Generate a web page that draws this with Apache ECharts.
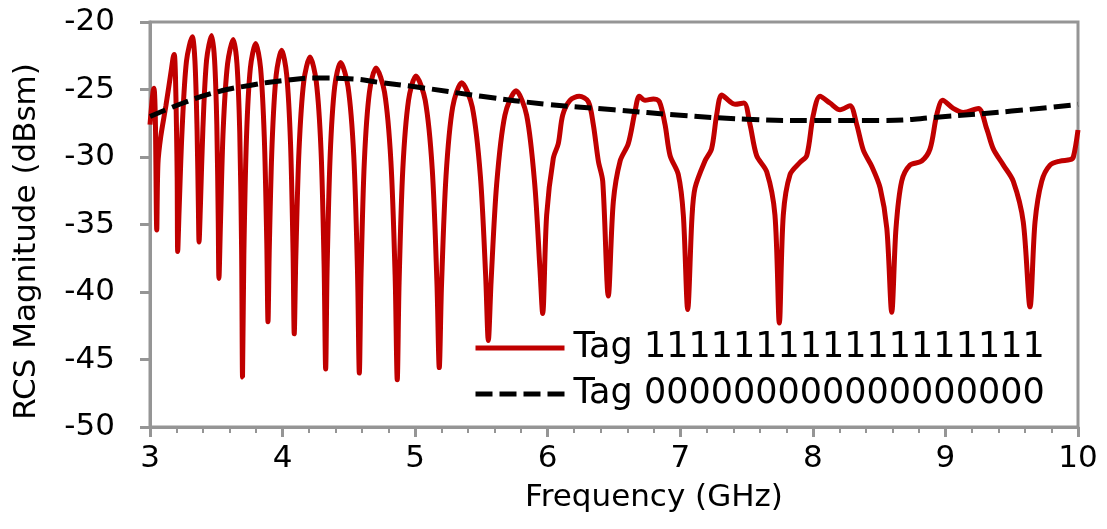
<!DOCTYPE html>
<html>
<head>
<meta charset="utf-8">
<script src="https://cdn.jsdelivr.net/npm/echarts@6/dist/echarts.min.js"></script>
<style>
  html, body { margin: 0; padding: 0; background: #fff; }
  #chart { width: 1107px; height: 529px; }
</style>
</head>
<body>
<div id="chart"></div>
<script>
// Tag 111111111111111111 (red solid)
const redFreq = [
  3.000, 3.022, 3.030, 3.040, 3.051, 3.060, 3.081, 3.120, 3.160, 3.175, 3.183, 3.192, 3.200, 3.205, 3.209,
  3.220, 3.242, 3.275, 3.319, 3.339, 3.355, 3.365, 3.370,
  3.380, 3.399, 3.427, 3.465, 3.487, 3.504, 3.515, 3.520,
  3.531, 3.552, 3.585, 3.628, 3.656, 3.677, 3.691, 3.698,
  3.708, 3.728, 3.757, 3.797, 3.834, 3.862, 3.881, 3.890,
  3.900, 3.921, 3.952, 3.993, 4.031, 4.060, 4.079, 4.088,
  4.100, 4.124, 4.160, 4.207, 4.254, 4.290, 4.313, 4.325,
  4.336, 4.359, 4.393, 4.438, 4.494, 4.537, 4.565, 4.579,
  4.592, 4.617, 4.655, 4.705, 4.769, 4.817, 4.849, 4.865,
  4.879, 4.907, 4.950, 5.006, 5.076, 5.129, 5.164, 5.182,
  5.199, 5.233, 5.283, 5.351, 5.431, 5.492, 5.532, 5.552,
  5.573, 5.615, 5.677, 5.761, 5.841, 5.902, 5.942, 5.962,
  5.992, 6.042, 6.080, 6.113, 6.168, 6.238, 6.306, 6.344, 6.382, 6.415, 6.457,
  6.495, 6.546, 6.608, 6.659, 6.691, 6.734, 6.797, 6.842, 6.885, 6.923, 6.985, 7.023, 7.056,
  7.088, 7.111, 7.186, 7.236, 7.274, 7.312, 7.375, 7.413, 7.480, 7.526, 7.576, 7.652, 7.714, 7.747,
  7.777, 7.828, 7.903, 7.954, 8.003, 8.054, 8.129, 8.205, 8.280, 8.331, 8.381, 8.445, 8.508, 8.558, 8.595,
  8.627, 8.670, 8.733, 8.821, 8.884, 8.934, 8.979, 9.059, 9.135, 9.248, 9.311, 9.361, 9.437, 9.512, 9.587, 9.638,
  9.676, 9.726, 9.789, 9.864, 9.940, 9.965, 10.000
];
const redRcs = [
  -27.6, -25.2, -24.9, -27.0, -35.4, -30.5, -28.5, -26.2, -23.6, -22.6, -22.4, -24.0, -28.0, -31.5, -37.0,
  -33.8, -28.0, -22.9, -21.1, -22.9, -28.0, -33.7, -36.3,
  -33.7, -27.9, -22.8, -21.0, -22.8, -27.6, -34.9, -39.0,
  -35.1, -28.0, -23.1, -21.3, -23.1, -28.2, -36.9, -46.3,
  -37.2, -28.5, -23.4, -21.6, -23.4, -28.5, -36.4, -42.2,
  -36.7, -29.0, -23.9, -22.1, -23.9, -29.0, -37.0, -43.1,
  -37.4, -29.5, -24.4, -22.6, -24.4, -29.5, -37.9, -45.7,
  -38.3, -29.9, -24.8, -23.0, -24.8, -29.9, -38.4, -46.0,
  -38.7, -30.3, -25.2, -23.4, -25.2, -30.3, -38.8, -46.5,
  -39.3, -30.9, -25.8, -24.0, -25.8, -30.9, -39.2, -45.6,
  -39.5, -31.4, -26.3, -24.5, -26.3, -31.4, -38.8, -43.6,
  -39.2, -32.0, -26.9, -25.1, -26.9, -32.0, -38.4, -41.6,
  -34.3, -30.1, -29.0, -26.9, -25.8, -25.5, -25.9, -27.6, -30.3, -31.8, -40.3,
  -33.3, -30.3, -29.0, -26.6, -25.5, -25.8, -25.7, -25.9, -27.6, -29.9, -31.3, -34.3, -41.3,
  -34.5, -32.3, -30.3, -29.4, -26.9, -25.4, -25.9, -26.1, -26.0, -27.6, -29.9, -31.1, -34.3, -42.3,
  -34.3, -31.3, -30.4, -29.9, -26.9, -25.5, -26.0, -26.5, -26.2, -27.6, -29.5, -30.7, -32.3, -35.3, -41.5,
  -35.3, -31.8, -30.6, -30.3, -29.4, -26.9, -25.8, -26.4, -26.7, -26.4, -27.9, -29.4, -30.6, -31.8, -34.8, -41.1,
  -34.8, -31.8, -30.6, -30.3, -30.2, -30.0, -28.0
];

// Tag 000000000000000000 (black dashed)
const blackFreq = [3.0, 3.25, 3.5, 3.75, 4.0, 4.25, 4.5, 4.75, 5.0, 5.5, 6.0, 6.5, 7.0, 7.5, 8.0, 8.5, 9.0, 9.5, 10.0];
const blackRcs  = [-27.0, -26.0, -25.2, -24.7, -24.35, -24.15, -24.2, -24.5, -24.8, -25.5, -26.1, -26.5, -26.9, -27.2, -27.3, -27.3, -27.0, -26.6, -26.1];

const seriesNames = ['Tag 111111111111111111', 'Tag 000000000000000000'];
const xTitle = 'Frequency (GHz)';
const yTitle = 'RCS Magnitude (dBsm)';

const zip = (xs, ys) => xs.map((x, i) => [x, ys[i]]);
const FONT = 'DejaVu Sans';
const AXIS_GRAY = '#959595';

const chart = echarts.init(document.getElementById('chart'), null, { renderer: 'canvas' });
chart.setOption({
  animation: false,
  backgroundColor: '#ffffff',
  grid: {
    left: 150, right: 29, top: 22, bottom: 102,
    show: true, borderColor: AXIS_GRAY, borderWidth: 3, backgroundColor: 'transparent'
  },
  legend: {
    orient: 'vertical',
    left: 473, top: 330,
    padding: 0,
    itemGap: 10,
    itemWidth: 89,
    itemHeight: 24,
    itemStyle: { opacity: 0, color: 'transparent', borderWidth: 0 },
    lineStyle: { width: 5 },
    textStyle: { fontFamily: FONT, fontSize: 35, color: '#000', lineHeight: 36, padding: [0, 0, 0, 4] },
    data: seriesNames
  },
  xAxis: {
    type: 'value',
    min: 3, max: 10, interval: 1,
    name: xTitle,
    nameLocation: 'middle',
    nameGap: 55,
    nameTextStyle: { fontFamily: FONT, fontSize: 31, color: '#000', padding: [0, 0, 0, 80] },
    axisLine: { show: true, lineStyle: { color: AXIS_GRAY, width: 3 } },
    axisTick: { show: true, length: 10, lineStyle: { color: AXIS_GRAY, width: 3 } },
    minorTick: { show: true, splitNumber: 5, length: 6, lineStyle: { color: AXIS_GRAY, width: 2 } },
    splitLine: { show: false },
    axisLabel: { fontFamily: FONT, fontSize: 31, color: '#000', margin: 16 }
  },
  yAxis: {
    type: 'value',
    min: -50, max: -20, interval: 5,
    name: yTitle,
    nameLocation: 'middle',
    nameGap: 108,
    nameTextStyle: { fontFamily: FONT, fontSize: 31, color: '#000', padding: [0, 34, 0, 0] },
    axisLine: { show: true, lineStyle: { color: AXIS_GRAY, width: 3 } },
    axisTick: { show: true, length: 10, lineStyle: { color: AXIS_GRAY, width: 3 } },
    splitLine: { show: false },
    axisLabel: { fontFamily: FONT, fontSize: 31, color: '#000', margin: 35 }
  },
  series: [
    {
      name: seriesNames[0],
      type: 'line',
      data: zip(redFreq, redRcs),
      showSymbol: false,
      symbol: 'none',
      smooth: 0.3,
      lineStyle: { color: '#C00000', width: 5 },
      itemStyle: { color: '#C00000' },
      z: 2
    },
    {
      name: seriesNames[1],
      type: 'line',
      data: zip(blackFreq, blackRcs),
      showSymbol: false,
      symbol: 'none',
      smooth: 0.5,
      lineStyle: { color: '#000000', width: 5, type: [17, 7] },
      itemStyle: { color: '#000000' },
      z: 3
    }
  ]
});
</script>
</body>
</html>
